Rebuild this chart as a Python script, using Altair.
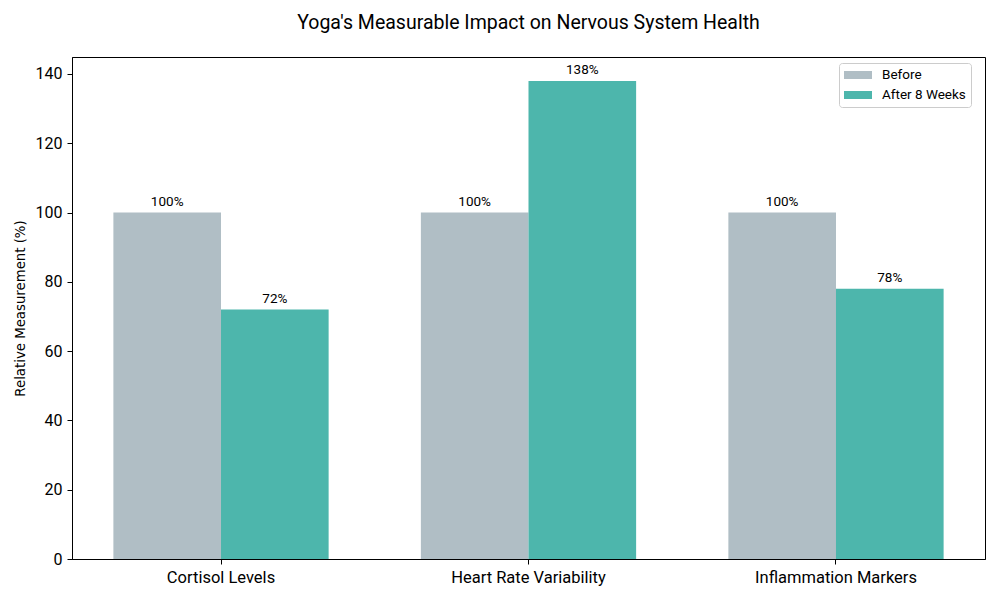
import altair as alt
import pandas as pd

categories = ["Cortisol Levels", "Heart Rate Variability", "Inflammation Markers"]
groups = ["Before", "After 8 Weeks"]
before = [100, 100, 100]
after = [72, 138, 78]
colors = ["#b0bec5", "#4db6ac"]

rows = []
for c, b, a in zip(categories, before, after):
    rows.append({"category": c, "group": groups[0], "value": b, "label": f"{b}%"})
    rows.append({"category": c, "group": groups[1], "value": a, "label": f"{a}%"})
df = pd.DataFrame(rows)

FONT = "Roboto"

base = alt.Chart(df).encode(
    x=alt.X("category:N", sort=categories,
            scale=alt.Scale(paddingInner=0.3, paddingOuter=0.1346),
            axis=alt.Axis(title=None, labelAngle=0, labelFontSize=16.5, tickSize=5,
                          labelPadding=5, domainColor="black", tickColor="black",
                          labelColor="black", labelFont=FONT)),
    xOffset=alt.XOffset("group:N", sort=groups,
                        scale=alt.Scale(paddingInner=0, paddingOuter=0)),
    y=alt.Y("value:Q", scale=alt.Scale(domain=[0, 144.9], nice=False, zero=True),
            axis=alt.Axis(title="Relative Measurement (%)", values=[0, 20, 40, 60, 80, 100, 120, 140],
                          labelFontSize=16, tickSize=5, labelPadding=5, grid=False,
                          domainColor="black", tickColor="black", labelColor="black",
                          titleFontSize=13.3, titleFontWeight="normal", titleColor="black",
                          titlePadding=8, labelFont=FONT, titleFont="DejaVu Sans")),
)

bars = base.mark_bar().encode(
    color=alt.Color("group:N", sort=groups,
                    scale=alt.Scale(domain=groups, range=colors),
                    legend=alt.Legend(title=None, orient="none", legendX=767, legendY=6,
                                      symbolType="M-1,-0.57L3,-0.57L3,0.57L-1,0.57Z",
                                      symbolSize=196, symbolStrokeWidth=0,
                                      labelFontSize=13.5, labelFont=FONT, labelColor="black",
                                      labelOffset=24, rowPadding=6, padding=5,
                                      strokeColor="#cccccc", fillColor="white",
                                      cornerRadius=3))
)

labels = base.mark_text(baseline="bottom", dy=-4, fontSize=13.5, font=FONT, color="black").encode(
    text="label:N"
)

chart = (bars + labels).properties(
    width=913, height=502,
    title=alt.TitleParams("Yoga's Measurable Impact on Nervous System Health",
                          fontSize=19.5, fontWeight="normal", font=FONT, color="black",
                          baseline="alphabetic", offset=9, anchor="middle"),
    autosize=alt.AutoSizeParams(type="none"),
    padding={"left": 64, "top": 49, "right": 7, "bottom": 33},
).configure_view(stroke="black", strokeWidth=1)

chart.save("out.html", embed_options={"renderer": "svg", "actions": False})
